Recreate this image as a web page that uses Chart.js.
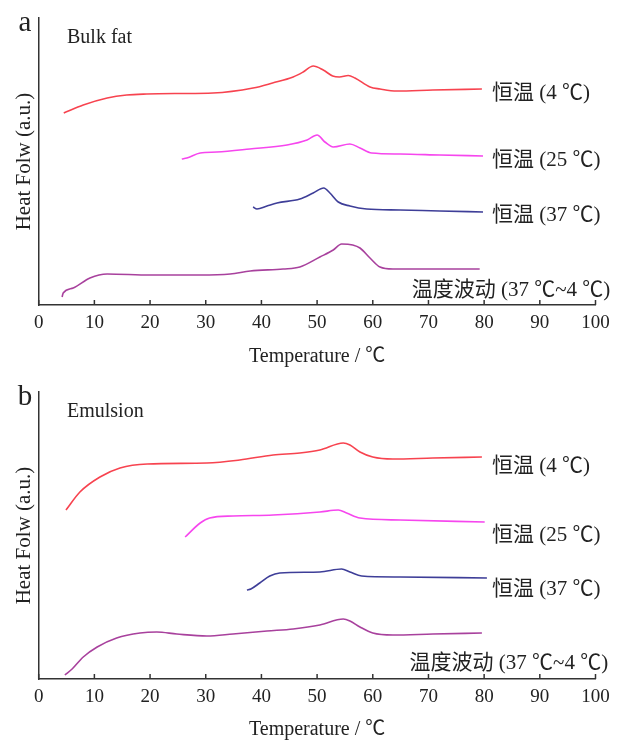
<!DOCTYPE html>
<html>
<head>
<meta charset="utf-8">
<script src="https://cdn.jsdelivr.net/npm/chart.js@4.4.0/dist/chart.umd.min.js"></script>
<style>
  body { margin: 0; background: #fff; }
  canvas { display: block; }
</style>
</head>
<body>
<canvas id="chartA" width="625" height="370"></canvas>
<canvas id="chartB" width="625" height="373"></canvas>
<script>
/* DSC curves, panel a = bulk fat, panel b = emulsion */

const curveLabels = ["恒温 (4 ℃)", "恒温 (25 ℃)", "恒温 (37 ℃)", "温度波动 (37 ℃~4 ℃)"];
const curveColors = ["#f7434f", "#f646ee", "#3e3e98", "#a8419d"];
const xTicks = [0, 10, 20, 30, 40, 50, 60, 70, 80, 90, 100];

// panel a
const a4_x = [4.5, 8, 12.3, 15.8, 19.4, 25, 31.3, 38.5, 42, 45.7, 47.5, 49.3, 51.1, 52.8, 54, 55.6, 56.8, 59.5, 61.3, 64.3, 70.8, 79.6];
const a4_y = [192, 200, 207, 210, 211, 211.5, 212, 217, 222, 228, 233, 239, 235, 229, 228, 229.5, 227, 218, 216, 214, 215, 216];
const a25_x = [25.7, 26.6, 29, 32, 37.9, 44.6, 48.2, 50, 51.4, 52.9, 55.9, 57.7, 59.8, 64.9, 72, 79.8];
const a25_y = [146, 147, 152, 153, 156, 160, 165, 170, 163, 158, 161, 157, 152, 151, 150, 149];
const a37_x = [38.5, 39.2, 41, 42.8, 46.9, 49.3, 51.2, 52.3, 53.8, 55.9, 58.9, 64.9, 72, 79.8];
const a37_y = [98, 96, 99, 102, 106, 112, 117, 112, 103, 99, 96, 95, 94, 93];
const aF_x = [4.2, 4.4, 6.2, 9.2, 12.3, 20, 29, 34.4, 38, 43.9, 46.9, 50.5, 52.9, 54.4, 56.4, 57.7, 59.5, 61.3, 63.6, 70.8, 79.2];
const aF_y = [8, 12, 17, 27, 31, 30, 30, 31, 34, 36, 38, 48, 55, 61, 60, 57, 47, 38, 36, 36, 36];

// panel b
const b4_x = [4.9, 7.4, 11, 14.6, 19.5, 30.2, 36.1, 42.1, 46.9, 50.5, 54.7, 55.9, 57.7, 60, 63.6, 70.8, 79.6];
const b4_y = [169, 187, 202, 211, 215, 216, 219, 224, 226, 229, 236, 234, 227, 222, 220, 221, 222];
const b25_x = [26.3, 29, 30.7, 34.9, 42.1, 50.5, 53.8, 55.3, 57.7, 64.9, 80.1];
const b25_y = [142, 156, 161, 163, 164, 167, 169, 166, 161, 159, 157];
const b37_x = [37.4, 38.1, 39.7, 41.5, 43.3, 50.5, 54.4, 55.9, 58, 64.9, 80.5];
const b37_y = [89, 90, 96, 103, 106, 107, 110, 107, 103, 102, 101];
const bF_x = [4.7, 6, 8, 10.5, 14, 18.2, 21.2, 24.8, 30.2, 34.9, 41, 45.7, 50.5, 54.7, 55.9, 57.7, 60, 63.6, 70.8, 79.6];
const bF_y = [4, 10, 22, 32, 41, 46, 47, 45, 43, 45, 48, 50, 54, 60, 58, 52, 46, 44, 45, 46];

const serif = "'Liberation Serif', 'Noto Sans CJK SC', serif";

function points(xs, ys) {
  return xs.map((x, i) => ({ x: x, y: ys[i] }));
}

// inside tick marks, curve labels, panel letter + name
const panelText = {
  id: "panelText",
  afterDraw(chart, args, opts) {
    const ctx = chart.ctx;
    const xs = chart.scales.x;
    const ys = chart.scales.y;
    const area = chart.chartArea;
    ctx.save();
    ctx.strokeStyle = "#333";
    ctx.lineWidth = 1.5;
    xTicks.forEach((t) => {
      let px = xs.getPixelForValue(t);
      ctx.beginPath();
      ctx.moveTo(px, area.bottom);
      ctx.lineTo(px, area.bottom - 5);
      ctx.stroke();
    });
    ctx.fillStyle = "#222";
    ctx.textBaseline = "middle";
    ctx.textAlign = "left";
    ctx.font = "21px " + serif;
    curveLabels.forEach((t, i) => {
      ctx.fillText(t, xs.getPixelForValue(opts.lx[i]), ys.getPixelForValue(opts.ly[i]));
    });
    ctx.font = "29px " + serif;
    ctx.textAlign = "center";
    ctx.fillText(opts.letter, 25, area.top + 5);
    ctx.font = "20px " + serif;
    ctx.textAlign = "left";
    ctx.fillText(opts.name, 67, area.top + 20);
    ctx.restore();
  }
};

function makeChart(id, series, letter, name, lx, ly, topPad, axisH) {
  let datasets = series.map((s, i) => ({
    label: curveLabels[i],
    data: s,
    borderColor: curveColors[i],
    borderWidth: 1.6,
    pointRadius: 0,
    fill: false,
    cubicInterpolationMode: "monotone"
  }));
  return new Chart(id, {
    type: "line",
    data: { datasets: datasets },
    plugins: [panelText],
    options: {
      responsive: false,
      animation: false,
      layout: { padding: { top: topPad, right: 29.5, left: 0, bottom: 0 } },
      plugins: {
        legend: { display: false },
        tooltip: { enabled: false },
        panelText: { letter: letter, name: name, lx: lx, ly: ly }
      },
      scales: {
        x: {
          type: "linear",
          min: 0,
          max: 100,
          afterBuildTicks: (s) => { s.ticks = xTicks.map((v) => ({ value: v })); },
          afterFit: (s) => { s.height = axisH; },
          grid: { display: false, drawTicks: false },
          border: { display: true, color: "#333", width: 1.5 },
          ticks: { color: "#222", padding: 7, font: { family: serif, size: 19 } },
          title: {
            display: true,
            text: "Temperature / ℃",
            color: "#222",
            padding: { top: 0, bottom: 1 },
            font: { family: serif, size: 20 }
          }
        },
        y: {
          min: 0,
          max: 287,
          afterFit: (s) => { s.width = 38.7; },
          grid: { display: false, drawTicks: false },
          border: { display: true, color: "#333", width: 1.5 },
          ticks: { display: false },
          title: {
            display: true,
            text: "Heat Folw (a.u.)",
            color: "#222",
            padding: { top: 12, bottom: 0 },
            font: { family: serif, size: 21 }
          }
        }
      }
    }
  });
}

makeChart("chartA",
  [points(a4_x, a4_y), points(a25_x, a25_y), points(a37_x, a37_y), points(aF_x, aF_y)],
  "a", "Bulk fat", [81.4, 81.4, 81.4, 67.0], [212, 145, 90, 15], 18, 65);

makeChart("chartB",
  [points(b4_x, b4_y), points(b25_x, b25_y), points(b37_x, b37_y), points(bF_x, bF_y)],
  "b", "Emulsion", [81.4, 81.4, 81.4, 66.6], [213, 144, 90, 16], 22, 64);
</script>
</body>
</html>
